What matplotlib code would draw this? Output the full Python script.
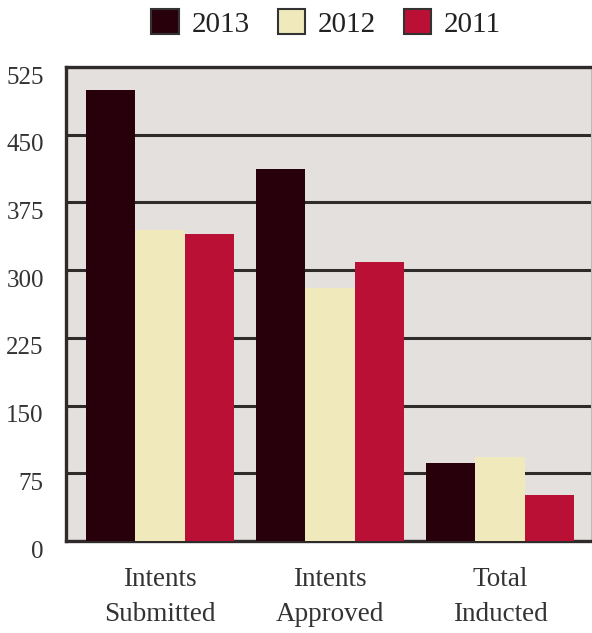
import matplotlib
matplotlib.use("Agg")
import matplotlib.pyplot as plt
import matplotlib.transforms as mtransforms
import numpy as np

categories = ["Intents\nSubmitted", "Intents\nApproved", "Total\nInducted"]
series_names = ["2013", "2012", "2011"]
values_2013 = [499, 412, 86]
values_2012 = [345, 280, 93]
values_2011 = [340, 309, 51]
yticks = [0, 75, 150, 225, 300, 375, 450, 525]
colors = ["#28000c", "#efe9bb", "#bb1035"]

plt.rcParams['font.family'] = ['Liberation Serif', 'DejaVu Serif']

fig = plt.figure(figsize=(5.92, 6.33), dpi=100)
ax = fig.add_axes([66/592, 92/633, 526/592, 474/633])
ax.set_facecolor("#e3e0de")

x = np.arange(len(categories))
w = 0.29
all_vals = [values_2013, values_2012, values_2011]
for i, (vals, name, c) in enumerate(zip(all_vals, series_names, colors)):
    ax.bar(x + (i - 1) * w, vals, width=w, color=c, label=name, zorder=3,
           edgecolor='none')

ax.set_xlim(-0.553, 2.541)
ax.set_ylim(0, 525)
ax.set_yticks(yticks)
ax.set_yticklabels([str(v) for v in yticks], fontsize=18, color="#333333")
ax.set_xticks(x)
ax.set_xticklabels(categories, fontsize=19.5, color="#333333", linespacing=1.5)
ax.tick_params(axis='both', length=0)
ax.tick_params(axis='y', pad=16)
ax.tick_params(axis='x', pad=19)

off = mtransforms.ScaledTranslation(0, -8/100, fig.dpi_scale_trans)
for lab in ax.get_yticklabels():
    lab.set_transform(lab.get_transform() + off)

ax.yaxis.grid(True, color="#2f2b2b", linewidth=2.2, zorder=1)
ax.set_axisbelow(True)
for s in ['left', 'bottom', 'top']:
    ax.spines[s].set_color("#2f2b2b")
    ax.spines[s].set_linewidth(2.4)
ax.spines['right'].set_color("#bdbbb9")
ax.spines['right'].set_linewidth(1.5)

handles, labels = ax.get_legend_handles_labels()
leg = fig.legend(handles, labels, loc='center', bbox_to_anchor=(0.551, 0.963),
                 ncol=3, frameon=False, fontsize=21, handlelength=0.93,
                 handleheight=0.93, handletextpad=0.45, columnspacing=0.95)
for h in leg.legend_handles:
    h.set_edgecolor("#333333")
    h.set_linewidth(1.5)
for t in leg.get_texts():
    t.set_color("#222222")

fig.savefig("out.png", dpi=100)
